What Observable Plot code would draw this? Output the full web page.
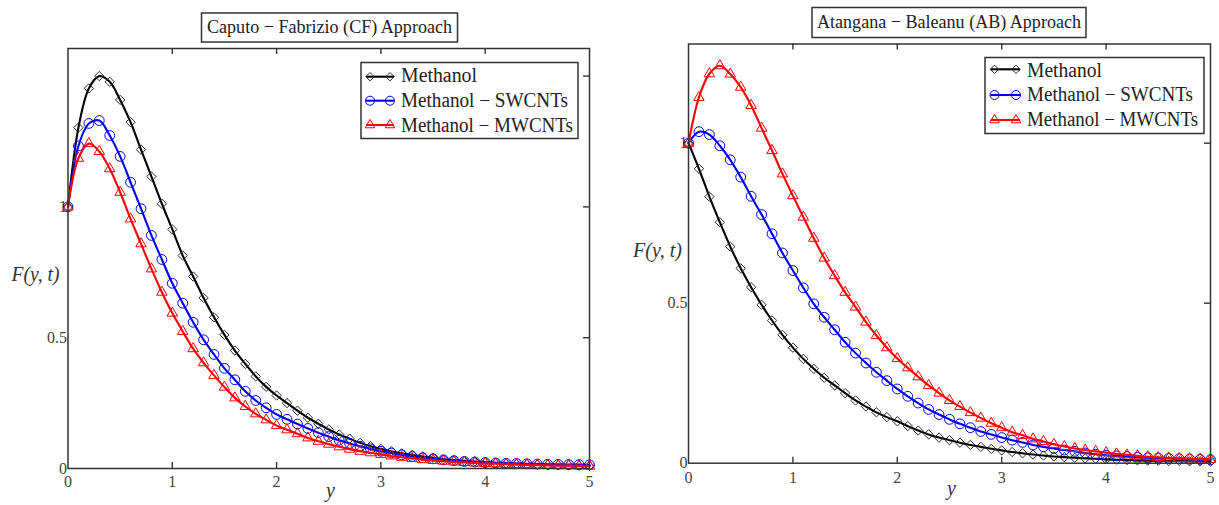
<!DOCTYPE html>
<html><head><meta charset="utf-8">
<script src="https://cdn.jsdelivr.net/npm/d3@7"></script>
<script src="https://cdn.jsdelivr.net/npm/@observablehq/plot@0.6"></script>
<style>
body{margin:0;background:#fff;}
#wrap{position:relative;width:1219px;height:505px;overflow:hidden;background:#fff;}
#wrap > svg{position:absolute;}
</style></head><body><div id="wrap"></div>
<script>
// x positions (y in the chart)
const yGrid = [0.0,0.1,0.2,0.3,0.4,0.5,0.6,0.7,0.8,0.9,1.0,1.1,1.2,1.3,1.4,1.5,1.6,1.7,1.8,1.9,2.0,2.1,2.2,2.3,2.4,2.5,2.6,2.7,2.8,2.9,3.0,3.1,3.2,3.3,3.4,3.5,3.6,3.7,3.8,3.9,4.0,4.1,4.2,4.3,4.4,4.5,4.6,4.7,4.8,4.9,5.0];

const seriesNames = ["Methanol", "Methanol \u2212 SWCNTs", "Methanol \u2212 MWCNTs"];
const seriesColors = ["#000000", "#0000ff", "#ff0000"];
const markerColors = ["#2a2a2a", "#0000ff", "#ff0000"];
const seriesSymbols = ["diamond2", "circle", "triangle2"];

// Caputo - Fabrizio (CF)
const cfMethanol = [1.000,1.303,1.453,1.500,1.478,1.409,1.324,1.219,1.116,1.012,0.914,0.814,0.734,0.652,0.578,0.511,0.451,0.400,0.352,0.312,0.279,0.250,0.221,0.194,0.171,0.149,0.130,0.114,0.098,0.085,0.075,0.066,0.058,0.052,0.046,0.041,0.035,0.032,0.029,0.027,0.024,0.022,0.020,0.018,0.017,0.015,0.014,0.013,0.012,0.011,0.010];
const cfSWCNT = [1.000,1.233,1.319,1.330,1.273,1.193,1.094,0.993,0.891,0.799,0.708,0.632,0.559,0.492,0.436,0.383,0.339,0.295,0.260,0.232,0.207,0.188,0.170,0.153,0.137,0.122,0.108,0.096,0.085,0.075,0.066,0.059,0.052,0.046,0.041,0.037,0.033,0.030,0.027,0.025,0.023,0.021,0.020,0.019,0.018,0.017,0.016,0.016,0.015,0.015,0.014];
const cfMWCNT = [1.000,1.186,1.242,1.212,1.146,1.056,0.954,0.859,0.763,0.674,0.594,0.524,0.458,0.404,0.356,0.311,0.270,0.237,0.209,0.186,0.164,0.148,0.133,0.117,0.104,0.093,0.083,0.074,0.066,0.060,0.054,0.048,0.043,0.038,0.034,0.031,0.028,0.025,0.023,0.021,0.019,0.018,0.016,0.015,0.014,0.013,0.012,0.011,0.011,0.010,0.009];

// Atangana - Baleanu (AB)
const abMethanol = [1.000,0.920,0.833,0.753,0.677,0.609,0.550,0.495,0.446,0.401,0.361,0.326,0.295,0.267,0.243,0.219,0.196,0.177,0.159,0.144,0.131,0.116,0.102,0.090,0.080,0.072,0.064,0.057,0.051,0.045,0.040,0.035,0.031,0.027,0.024,0.021,0.019,0.017,0.015,0.014,0.012,0.011,0.010,0.009,0.008,0.008,0.007,0.007,0.006,0.006,0.005];
const abSWCNT = [1.000,1.036,1.027,0.992,0.948,0.894,0.834,0.777,0.717,0.657,0.602,0.548,0.498,0.456,0.417,0.378,0.344,0.313,0.284,0.258,0.232,0.209,0.188,0.168,0.152,0.137,0.123,0.111,0.099,0.090,0.080,0.072,0.065,0.057,0.051,0.046,0.041,0.037,0.032,0.028,0.025,0.023,0.021,0.019,0.017,0.016,0.015,0.014,0.013,0.012,0.011];
const abMWCNT = [1.000,1.143,1.217,1.242,1.216,1.175,1.118,1.047,0.977,0.904,0.836,0.769,0.703,0.641,0.586,0.534,0.488,0.441,0.399,0.361,0.327,0.298,0.270,0.243,0.219,0.196,0.177,0.158,0.141,0.125,0.111,0.097,0.087,0.076,0.068,0.059,0.052,0.046,0.041,0.037,0.033,0.029,0.026,0.023,0.020,0.018,0.016,0.015,0.014,0.013,0.012];

const xTickLabels = [0,1,2,3,4,5];
const innerXTicks = [1,2,3,4];
const cfYLabels = [0,0.5,1];
const cfRightTicks = [0.5,1,1.5];
const abYLabels = [0,0.5,1];
const abRightTicks = [0.5,1];

const titles = ["Caputo \u2212 Fabrizio (CF) Approach", "Atangana \u2212 Baleanu (AB) Approach"];

const symbolR = [4.2, 4.9, 5.0];
const FONT = "'Liberation Serif', 'DejaVu Serif', serif";

function makePanel(cfg) {
  const {values, width, height, ml, mr, mt, mb, ymax, yLabels, rightTicks, xPad, yPad} = cfg;
  const iw = width - ml - mr, ih = height - mt - mb;
  const marks = [
    Plot.tickX(innerXTicks, {x: d => d, insetTop: ih - 6, stroke: "#333", strokeWidth: 1.4}),
    Plot.tickX(innerXTicks, {x: d => d, insetBottom: ih - 6, stroke: "#333", strokeWidth: 1.4}),
    Plot.tickY(rightTicks, {y: d => d, insetLeft: iw - 6, stroke: "#333", strokeWidth: 1.4}),
    Plot.axisX({ticks: xTickLabels, tickSize: 0, tickPadding: xPad, tickFormat: d => String(d), label: null, fontSize: 16, color: "#444"}),
    Plot.axisY({ticks: yLabels, tickSize: 0, tickPadding: yPad, tickFormat: d => String(d), label: null, fontSize: 16, color: "#444"})
  ];
  values.forEach((arr, s) => {
    const d = arr.map((v, i) => ({x: yGrid[i], v}));
    marks.push(Plot.line(d, {x: "x", y: "v", stroke: seriesColors[s], strokeWidth: 2.1, curve: "catmull-rom"}));
    marks.push(Plot.dot(d, {x: "x", y: "v", symbol: seriesSymbols[s], r: symbolR[s], stroke: markerColors[s], fill: "none", strokeWidth: 1}));
  });
  marks.push(Plot.frame({stroke: "#333", strokeWidth: 1.5}));
  return Plot.plot({
    width, height, marginLeft: ml, marginRight: mr, marginTop: mt, marginBottom: mb,
    x: {domain: [0, 5]}, y: {domain: [0, ymax]},
    style: {fontFamily: FONT, background: "transparent", overflow: "visible"},
    marks
  });
}

const wrap = document.getElementById("wrap");

const left = makePanel({values: [cfMethanol, cfSWCNT, cfMWCNT], width: 610, height: 505,
  ml: 67.5, mr: 21, mt: 48, mb: 37, ymax: 1.6055, yLabels: cfYLabels, rightTicks: cfRightTicks, xPad: 7, yPad: 1});
left.style.left = "0px"; left.style.top = "0px";
wrap.appendChild(left);

const right = makePanel({values: [abMethanol, abSWCNT, abMWCNT], width: 609, height: 505,
  ml: 78, mr: 9, mt: 43.5, mb: 42.3, ymax: 1.31, yLabels: abYLabels, rightTicks: abRightTicks, xPad: 8, yPad: 1});
right.style.left = "610px"; right.style.top = "0px";
wrap.appendChild(right);

// overlay: titles, legends, axis labels
const ov = d3.create("svg").attr("width", 1219).attr("height", 505)
  .style("left", "0px").style("top", "0px").style("font-family", FONT);

const titleBoxes = [
  {x: 201.5, y: 13, w: 256, h: 29, tx: 207, ty: 32.5, tl: 245},
  {x: 812, y: 7.5, w: 274, h: 30, tx: 817, ty: 27.5, tl: 264}
];
titleBoxes.forEach((b, i) => {
  ov.append("rect").attr("x", b.x).attr("y", b.y).attr("width", b.w).attr("height", b.h)
    .attr("fill", "#fff").attr("stroke", "#333").attr("stroke-width", 1.5);
  ov.append("text").attr("x", b.tx).attr("y", b.ty).attr("font-size", 19.5).attr("fill", "#222")
    .attr("textLength", b.tl).attr("lengthAdjust", "spacingAndGlyphs").text(titles[i]);
});

const legends = [
  {x: 361, y: 62.5, w: 217, h: 76, l1: 366, l2: 394, m1: 370, m2: 390, rows: [76.7, 100.7, 125], tx: 401, base: [81.5, 106.5, 131.5], tl: [76, 167, 172]},
  {x: 985, y: 57.5, w: 219, h: 76, l1: 990.5, l2: 1020, m1: 994.5, m2: 1016, rows: [69.3, 95, 120], tx: 1027, base: [76.5, 101.2, 126.2], tl: [75, 166, 171]}
];
const symTypes = {diamond2: d3.symbolDiamond2, circle: d3.symbolCircle, triangle2: d3.symbolTriangle2};
const legendR = [3.8, 4.5, 4.6];
legends.forEach(L => {
  ov.append("rect").attr("x", L.x).attr("y", L.y).attr("width", L.w).attr("height", L.h)
    .attr("fill", "#fff").attr("stroke", "#333").attr("stroke-width", 1.5);
  seriesNames.forEach((name, s) => {
    const yy = L.rows[s];
    ov.append("line").attr("x1", L.l1).attr("x2", L.l2).attr("y1", yy).attr("y2", yy)
      .attr("stroke", seriesColors[s]).attr("stroke-width", 2.1);
    const path = d3.symbol(symTypes[seriesSymbols[s]], Math.PI * legendR[s] * legendR[s])();
    [L.m1, L.m2].forEach(mx => {
      ov.append("path").attr("d", path).attr("transform", `translate(${mx},${yy})`)
        .attr("fill", "none").attr("stroke", markerColors[s]).attr("stroke-width", 1);
    });
    ov.append("text").attr("x", L.tx).attr("y", L.base[s]).attr("font-size", 20).attr("fill", "#222")
      .attr("textLength", L.tl[s]).attr("lengthAdjust", "spacingAndGlyphs").text(name);
  });
});

const axisLabels = [
  {t: "F(y, t)", x: 11.5, y: 281, tl: 48},
  {t: "F(y, t)", x: 633, y: 257, tl: 49},
  {t: "y", x: 326, y: 497, tl: null},
  {t: "y", x: 947, y: 495, tl: null}
];
axisLabels.forEach(a => {
  const t = ov.append("text").attr("x", a.x).attr("y", a.y).attr("font-size", 20)
    .attr("font-style", "italic").attr("fill", "#333").text(a.t);
  if (a.tl) t.attr("textLength", a.tl).attr("lengthAdjust", "spacingAndGlyphs");
});

wrap.appendChild(ov.node());
</script>
</body></html>
